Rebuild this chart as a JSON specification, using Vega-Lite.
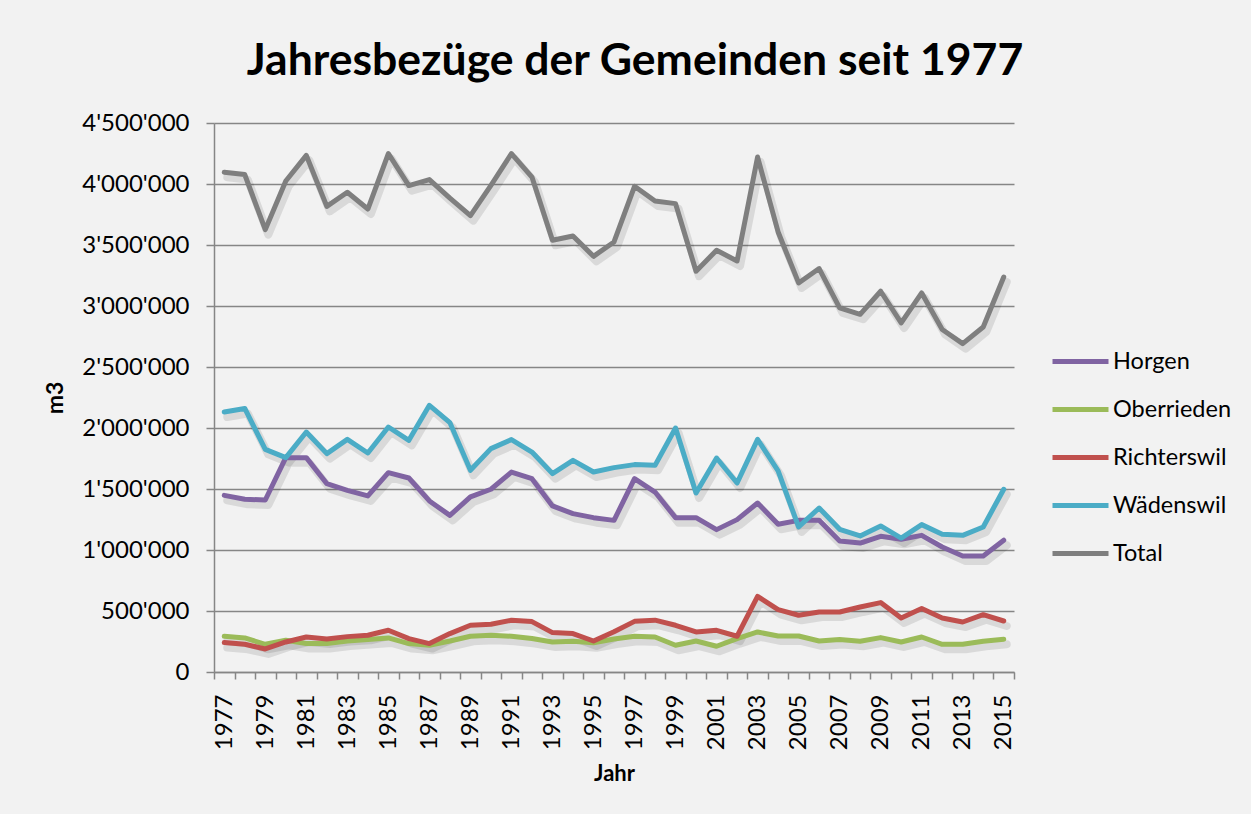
{
  "$schema": "https://vega.github.io/schema/vega-lite/v6.json",
  "width": 800,
  "height": 549,
  "autosize": {"type": "none"},
  "padding": {"left": 214, "top": 123, "right": 237, "bottom": 142},
  "background": "#f2f2f2",
  "config": {"view": {"stroke": null}},
  "title": {"text": "Jahresbezüge der Gemeinden seit 1977", "font": "Lato", "fontSize": 44.5, "fontWeight": "bold", "color": "#000000", "anchor": "middle", "baseline": "alphabetic", "offset": -8, "dx": 21},
  "datasets": {
    "src": [
      {"Jahr":1977,"Gemeinde":"Horgen","m3":1448000},{"Jahr":1978,"Gemeinde":"Horgen","m3":1416000},{"Jahr":1979,"Gemeinde":"Horgen","m3":1410000},{"Jahr":1980,"Gemeinde":"Horgen","m3":1757000},{"Jahr":1981,"Gemeinde":"Horgen","m3":1757000},{"Jahr":1982,"Gemeinde":"Horgen","m3":1544000},{"Jahr":1983,"Gemeinde":"Horgen","m3":1489000},{"Jahr":1984,"Gemeinde":"Horgen","m3":1443000},{"Jahr":1985,"Gemeinde":"Horgen","m3":1634000},{"Jahr":1986,"Gemeinde":"Horgen","m3":1590000},{"Jahr":1987,"Gemeinde":"Horgen","m3":1402000},{"Jahr":1988,"Gemeinde":"Horgen","m3":1284000},{"Jahr":1989,"Gemeinde":"Horgen","m3":1435000},{"Jahr":1990,"Gemeinde":"Horgen","m3":1498000},{"Jahr":1991,"Gemeinde":"Horgen","m3":1639000},{"Jahr":1992,"Gemeinde":"Horgen","m3":1585000},{"Jahr":1993,"Gemeinde":"Horgen","m3":1361000},{"Jahr":1994,"Gemeinde":"Horgen","m3":1298000},{"Jahr":1995,"Gemeinde":"Horgen","m3":1265000},{"Jahr":1996,"Gemeinde":"Horgen","m3":1243000},{"Jahr":1997,"Gemeinde":"Horgen","m3":1585000},{"Jahr":1998,"Gemeinde":"Horgen","m3":1475000},{"Jahr":1999,"Gemeinde":"Horgen","m3":1265000},{"Jahr":2000,"Gemeinde":"Horgen","m3":1265000},{"Jahr":2001,"Gemeinde":"Horgen","m3":1167000},{"Jahr":2002,"Gemeinde":"Horgen","m3":1249000},{"Jahr":2003,"Gemeinde":"Horgen","m3":1385000},{"Jahr":2004,"Gemeinde":"Horgen","m3":1211000},{"Jahr":2005,"Gemeinde":"Horgen","m3":1243000},{"Jahr":2006,"Gemeinde":"Horgen","m3":1243000},{"Jahr":2007,"Gemeinde":"Horgen","m3":1074000},{"Jahr":2008,"Gemeinde":"Horgen","m3":1057000},{"Jahr":2009,"Gemeinde":"Horgen","m3":1112000},{"Jahr":2010,"Gemeinde":"Horgen","m3":1088000},{"Jahr":2011,"Gemeinde":"Horgen","m3":1120000},{"Jahr":2012,"Gemeinde":"Horgen","m3":1025000},{"Jahr":2013,"Gemeinde":"Horgen","m3":951000},{"Jahr":2014,"Gemeinde":"Horgen","m3":951000},{"Jahr":2015,"Gemeinde":"Horgen","m3":1080000},
      {"Jahr":1977,"Gemeinde":"Oberrieden","m3":293000},{"Jahr":1978,"Gemeinde":"Oberrieden","m3":279000},{"Jahr":1979,"Gemeinde":"Oberrieden","m3":227000},{"Jahr":1980,"Gemeinde":"Oberrieden","m3":260000},{"Jahr":1981,"Gemeinde":"Oberrieden","m3":233000},{"Jahr":1982,"Gemeinde":"Oberrieden","m3":233000},{"Jahr":1983,"Gemeinde":"Oberrieden","m3":254000},{"Jahr":1984,"Gemeinde":"Oberrieden","m3":266000},{"Jahr":1985,"Gemeinde":"Oberrieden","m3":279000},{"Jahr":1986,"Gemeinde":"Oberrieden","m3":233000},{"Jahr":1987,"Gemeinde":"Oberrieden","m3":219000},{"Jahr":1988,"Gemeinde":"Oberrieden","m3":254000},{"Jahr":1989,"Gemeinde":"Oberrieden","m3":293000},{"Jahr":1990,"Gemeinde":"Oberrieden","m3":301000},{"Jahr":1991,"Gemeinde":"Oberrieden","m3":293000},{"Jahr":1992,"Gemeinde":"Oberrieden","m3":274000},{"Jahr":1993,"Gemeinde":"Oberrieden","m3":246000},{"Jahr":1994,"Gemeinde":"Oberrieden","m3":252000},{"Jahr":1995,"Gemeinde":"Oberrieden","m3":240000},{"Jahr":1996,"Gemeinde":"Oberrieden","m3":270000},{"Jahr":1997,"Gemeinde":"Oberrieden","m3":293000},{"Jahr":1998,"Gemeinde":"Oberrieden","m3":287000},{"Jahr":1999,"Gemeinde":"Oberrieden","m3":219000},{"Jahr":2000,"Gemeinde":"Oberrieden","m3":254000},{"Jahr":2001,"Gemeinde":"Oberrieden","m3":211000},{"Jahr":2002,"Gemeinde":"Oberrieden","m3":274000},{"Jahr":2003,"Gemeinde":"Oberrieden","m3":328000},{"Jahr":2004,"Gemeinde":"Oberrieden","m3":295000},{"Jahr":2005,"Gemeinde":"Oberrieden","m3":295000},{"Jahr":2006,"Gemeinde":"Oberrieden","m3":254000},{"Jahr":2007,"Gemeinde":"Oberrieden","m3":266000},{"Jahr":2008,"Gemeinde":"Oberrieden","m3":252000},{"Jahr":2009,"Gemeinde":"Oberrieden","m3":282000},{"Jahr":2010,"Gemeinde":"Oberrieden","m3":246000},{"Jahr":2011,"Gemeinde":"Oberrieden","m3":287000},{"Jahr":2012,"Gemeinde":"Oberrieden","m3":227000},{"Jahr":2013,"Gemeinde":"Oberrieden","m3":227000},{"Jahr":2014,"Gemeinde":"Oberrieden","m3":252000},{"Jahr":2015,"Gemeinde":"Oberrieden","m3":268000},
      {"Jahr":1977,"Gemeinde":"Richterswil","m3":241000},{"Jahr":1978,"Gemeinde":"Richterswil","m3":227000},{"Jahr":1979,"Gemeinde":"Richterswil","m3":189000},{"Jahr":1980,"Gemeinde":"Richterswil","m3":246000},{"Jahr":1981,"Gemeinde":"Richterswil","m3":287000},{"Jahr":1982,"Gemeinde":"Richterswil","m3":270000},{"Jahr":1983,"Gemeinde":"Richterswil","m3":290000},{"Jahr":1984,"Gemeinde":"Richterswil","m3":301000},{"Jahr":1985,"Gemeinde":"Richterswil","m3":342000},{"Jahr":1986,"Gemeinde":"Richterswil","m3":274000},{"Jahr":1987,"Gemeinde":"Richterswil","m3":233000},{"Jahr":1988,"Gemeinde":"Richterswil","m3":315000},{"Jahr":1989,"Gemeinde":"Richterswil","m3":383000},{"Jahr":1990,"Gemeinde":"Richterswil","m3":391000},{"Jahr":1991,"Gemeinde":"Richterswil","m3":424000},{"Jahr":1992,"Gemeinde":"Richterswil","m3":413000},{"Jahr":1993,"Gemeinde":"Richterswil","m3":323000},{"Jahr":1994,"Gemeinde":"Richterswil","m3":315000},{"Jahr":1995,"Gemeinde":"Richterswil","m3":254000},{"Jahr":1996,"Gemeinde":"Richterswil","m3":330000},{"Jahr":1997,"Gemeinde":"Richterswil","m3":415000},{"Jahr":1998,"Gemeinde":"Richterswil","m3":425000},{"Jahr":1999,"Gemeinde":"Richterswil","m3":383000},{"Jahr":2000,"Gemeinde":"Richterswil","m3":328000},{"Jahr":2001,"Gemeinde":"Richterswil","m3":342000},{"Jahr":2002,"Gemeinde":"Richterswil","m3":293000},{"Jahr":2003,"Gemeinde":"Richterswil","m3":620000},{"Jahr":2004,"Gemeinde":"Richterswil","m3":511000},{"Jahr":2005,"Gemeinde":"Richterswil","m3":465000},{"Jahr":2006,"Gemeinde":"Richterswil","m3":492000},{"Jahr":2007,"Gemeinde":"Richterswil","m3":492000},{"Jahr":2008,"Gemeinde":"Richterswil","m3":533000},{"Jahr":2009,"Gemeinde":"Richterswil","m3":569000},{"Jahr":2010,"Gemeinde":"Richterswil","m3":443000},{"Jahr":2011,"Gemeinde":"Richterswil","m3":520000},{"Jahr":2012,"Gemeinde":"Richterswil","m3":443000},{"Jahr":2013,"Gemeinde":"Richterswil","m3":410000},{"Jahr":2014,"Gemeinde":"Richterswil","m3":470000},{"Jahr":2015,"Gemeinde":"Richterswil","m3":418000},
      {"Jahr":1977,"Gemeinde":"Wädenswil","m3":2131000},{"Jahr":1978,"Gemeinde":"Wädenswil","m3":2160000},{"Jahr":1979,"Gemeinde":"Wädenswil","m3":1825000},{"Jahr":1980,"Gemeinde":"Wädenswil","m3":1757000},{"Jahr":1981,"Gemeinde":"Wädenswil","m3":1967000},{"Jahr":1982,"Gemeinde":"Wädenswil","m3":1790000},{"Jahr":1983,"Gemeinde":"Wädenswil","m3":1907000},{"Jahr":1984,"Gemeinde":"Wädenswil","m3":1795000},{"Jahr":1985,"Gemeinde":"Wädenswil","m3":2008000},{"Jahr":1986,"Gemeinde":"Wädenswil","m3":1899000},{"Jahr":1987,"Gemeinde":"Wädenswil","m3":2186000},{"Jahr":1988,"Gemeinde":"Wädenswil","m3":2044000},{"Jahr":1989,"Gemeinde":"Wädenswil","m3":1653000},{"Jahr":1990,"Gemeinde":"Wädenswil","m3":1831000},{"Jahr":1991,"Gemeinde":"Wädenswil","m3":1905000},{"Jahr":1992,"Gemeinde":"Wädenswil","m3":1803000},{"Jahr":1993,"Gemeinde":"Wädenswil","m3":1626000},{"Jahr":1994,"Gemeinde":"Wädenswil","m3":1735000},{"Jahr":1995,"Gemeinde":"Wädenswil","m3":1639000},{"Jahr":1996,"Gemeinde":"Wädenswil","m3":1675000},{"Jahr":1997,"Gemeinde":"Wädenswil","m3":1700000},{"Jahr":1998,"Gemeinde":"Wädenswil","m3":1694000},{"Jahr":1999,"Gemeinde":"Wädenswil","m3":2000000},{"Jahr":2000,"Gemeinde":"Wädenswil","m3":1467000},{"Jahr":2001,"Gemeinde":"Wädenswil","m3":1754000},{"Jahr":2002,"Gemeinde":"Wädenswil","m3":1549000},{"Jahr":2003,"Gemeinde":"Wädenswil","m3":1907000},{"Jahr":2004,"Gemeinde":"Wädenswil","m3":1648000},{"Jahr":2005,"Gemeinde":"Wädenswil","m3":1189000},{"Jahr":2006,"Gemeinde":"Wädenswil","m3":1344000},{"Jahr":2007,"Gemeinde":"Wädenswil","m3":1170000},{"Jahr":2008,"Gemeinde":"Wädenswil","m3":1115000},{"Jahr":2009,"Gemeinde":"Wädenswil","m3":1197000},{"Jahr":2010,"Gemeinde":"Wädenswil","m3":1098000},{"Jahr":2011,"Gemeinde":"Wädenswil","m3":1208000},{"Jahr":2012,"Gemeinde":"Wädenswil","m3":1129000},{"Jahr":2013,"Gemeinde":"Wädenswil","m3":1120000},{"Jahr":2014,"Gemeinde":"Wädenswil","m3":1189000},{"Jahr":2015,"Gemeinde":"Wädenswil","m3":1498000},
      {"Jahr":1977,"Gemeinde":"Total","m3":4096000},{"Jahr":1978,"Gemeinde":"Total","m3":4077000},{"Jahr":1979,"Gemeinde":"Total","m3":3626000},{"Jahr":1980,"Gemeinde":"Total","m3":4025000},{"Jahr":1981,"Gemeinde":"Total","m3":4235000},{"Jahr":1982,"Gemeinde":"Total","m3":3817000},{"Jahr":1983,"Gemeinde":"Total","m3":3932000},{"Jahr":1984,"Gemeinde":"Total","m3":3795000},{"Jahr":1985,"Gemeinde":"Total","m3":4249000},{"Jahr":1986,"Gemeinde":"Total","m3":3987000},{"Jahr":1987,"Gemeinde":"Total","m3":4036000},{"Jahr":1988,"Gemeinde":"Total","m3":3885000},{"Jahr":1989,"Gemeinde":"Total","m3":3741000},{"Jahr":1990,"Gemeinde":"Total","m3":3989000},{"Jahr":1991,"Gemeinde":"Total","m3":4249000},{"Jahr":1992,"Gemeinde":"Total","m3":4057000},{"Jahr":1993,"Gemeinde":"Total","m3":3539000},{"Jahr":1994,"Gemeinde":"Total","m3":3574000},{"Jahr":1995,"Gemeinde":"Total","m3":3407000},{"Jahr":1996,"Gemeinde":"Total","m3":3525000},{"Jahr":1997,"Gemeinde":"Total","m3":3981000},{"Jahr":1998,"Gemeinde":"Total","m3":3861000},{"Jahr":1999,"Gemeinde":"Total","m3":3839000},{"Jahr":2000,"Gemeinde":"Total","m3":3285000},{"Jahr":2001,"Gemeinde":"Total","m3":3457000},{"Jahr":2002,"Gemeinde":"Total","m3":3369000},{"Jahr":2003,"Gemeinde":"Total","m3":4221000},{"Jahr":2004,"Gemeinde":"Total","m3":3607000},{"Jahr":2005,"Gemeinde":"Total","m3":3189000},{"Jahr":2006,"Gemeinde":"Total","m3":3307000},{"Jahr":2007,"Gemeinde":"Total","m3":2984000},{"Jahr":2008,"Gemeinde":"Total","m3":2932000},{"Jahr":2009,"Gemeinde":"Total","m3":3121000},{"Jahr":2010,"Gemeinde":"Total","m3":2861000},{"Jahr":2011,"Gemeinde":"Total","m3":3107000},{"Jahr":2012,"Gemeinde":"Total","m3":2807000},{"Jahr":2013,"Gemeinde":"Total","m3":2692000},{"Jahr":2014,"Gemeinde":"Total","m3":2828000},{"Jahr":2015,"Gemeinde":"Total","m3":3238000}
    ]
  },
  "data": {"name": "src"},
  "encoding": {
    "x": {
      "field": "Jahr", "type": "quantitative",
      "scale": {"domain": [1976.5, 2015.5], "nice": false, "zero": false},
      "axis": {
        "title": "Jahr", "titleFont": "Lato", "titleFontSize": 22, "titleFontWeight": "bold", "titleColor": "#000000", "titlePadding": 14,
        "values": [1976.5,1977.5,1978.5,1979.5,1980.5,1981.5,1982.5,1983.5,1984.5,1985.5,1986.5,1987.5,1988.5,1989.5,1990.5,1991.5,1992.5,1993.5,1994.5,1995.5,1996.5,1997.5,1998.5,1999.5,2000.5,2001.5,2002.5,2003.5,2004.5,2005.5,2006.5,2007.5,2008.5,2009.5,2010.5,2011.5,2012.5,2013.5,2014.5,2015.5],
        "labelExpr": "(datum.value + 0.5) % 2 == 1 ? '' + (datum.value + 0.5) : ''",
        "labelOffset": 10.26, "labelAngle": -90, "labelPadding": 15, "labelFont": "Lato", "labelFontSize": 24, "labelColor": "#000000",
        "labelFlush": false, "labelOverlap": false, "labelBound": false,
        "grid": false, "tickSize": 7, "tickColor": "#868686", "tickWidth": 1.5, "domainColor": "#868686", "domainWidth": 1.5
      }
    },
    "y": {
      "field": "m3", "type": "quantitative",
      "scale": {"domain": [0, 4500000], "nice": false},
      "axis": {
        "title": "m3", "titleFont": "Lato", "titleFontSize": 23, "titleFontWeight": "bold", "titleColor": "#000000", "titlePadding": 14,
        "values": [0,500000,1000000,1500000,2000000,2500000,3000000,3500000,4000000,4500000],
        "labelExpr": "replace(format(datum.value, ',d'), regexp(',', 'g'), \"'\")",
        "labelFont": "Lato", "labelFontSize": 24, "labelColor": "#000000", "labelPadding": 17,
        "grid": true, "gridColor": "#868686", "gridWidth": 1.3,
        "tickSize": 8, "tickColor": "#868686", "tickWidth": 1.5, "domainColor": "#868686", "domainWidth": 1.5
      }
    }
  },
  "layer": [
    {
      "mark": {"type": "line", "color": "#000000", "opacity": 0.1, "strokeWidth": 8, "xOffset": 3, "yOffset": 5, "strokeCap": "round", "strokeJoin": "round"},
      "encoding": {"detail": {"field": "Gemeinde", "type": "nominal"}}
    },
    {
      "mark": {"type": "line", "strokeWidth": 5, "strokeCap": "round", "strokeJoin": "round"},
      "encoding": {
        "color": {
          "field": "Gemeinde", "type": "nominal",
          "scale": {"domain": ["Horgen", "Oberrieden", "Richterswil", "Wädenswil", "Total"], "range": ["#8064a2", "#9bbb59", "#c0504d", "#4bacc6", "#7f7f7f"]},
          "legend": {
            "title": null, "orient": "none", "legendX": 836, "legendY": 208,
            "symbolType": "stroke", "symbolSize": 3136, "symbolStrokeWidth": 5,
            "labelFont": "Lato", "labelFontSize": 23.5, "labelColor": "#000000", "labelOffset": 2,
            "padding": 0, "rowPadding": 6
          }
        }
      }
    }
  ]
}
